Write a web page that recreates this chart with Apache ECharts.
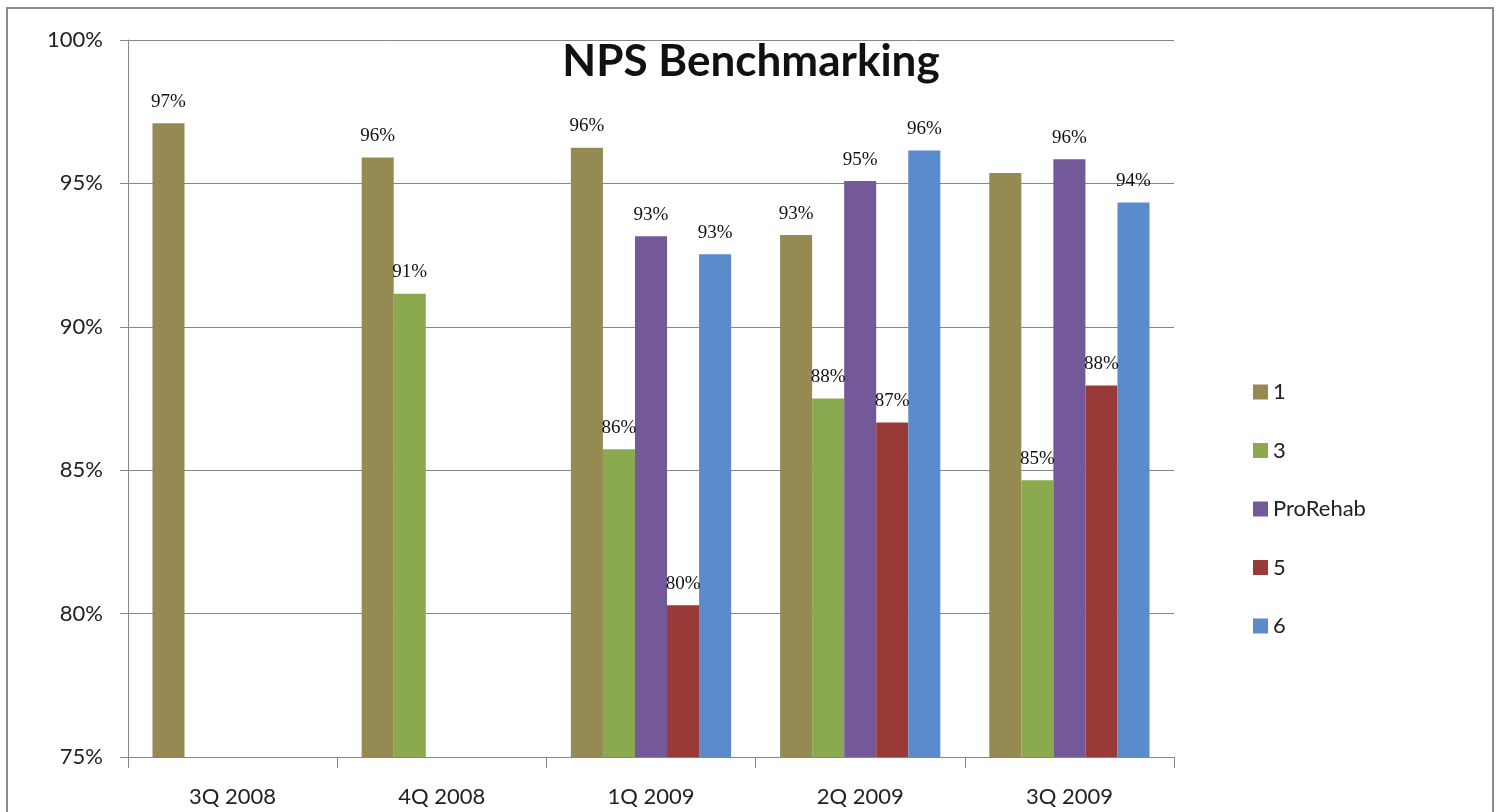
<!DOCTYPE html>
<html>
<head>
<meta charset="utf-8">
<script src="https://cdn.jsdelivr.net/npm/echarts@6/dist/echarts.min.js"></script>
<style>
html,body{margin:0;padding:0;background:#fff;}
#c{width:1502px;height:812px;}
</style>
</head>
<body>
<div id="c"></div>
<script>
const categories = ['3Q 2008', '4Q 2008', '1Q 2009', '2Q 2009', '3Q 2009'];
const seriesNames = ['1', '3', 'ProRehab', '5', '6'];
const s1 = [97.1, 95.9, 96.24, 93.2, 95.36];
const s3 = [null, 91.15, 85.73, 87.5, 84.65];
const sProRehab = [null, null, 93.16, 95.08, 95.84];
const s5 = [null, null, 80.29, 86.66, 87.95];
const s6 = [null, null, 92.53, 96.15, 94.33];
const yTicks = [75, 80, 85, 90, 95, 100];
// [seriesIndex, categoryIndex] of bars that show no data label
const unlabeled = [[0, 4]];
const colors = ['#958A52', '#8BA94F', '#74599A', '#9A3A38', '#5A8BCB'];

const allValues = [s1, s3, sProRehab, s5, s6];

const chart = echarts.init(document.getElementById('c'));
const series = allValues.map((vals, si) => ({
  name: seriesNames[si],
  type: 'bar',
  barGap: '0%',
  barCategoryGap: '23.4%',
  itemStyle: { color: colors[si] },
  label: {
    show: true,
    position: 'top',
    distance: 12,
    fontFamily: '"Liberation Serif", serif',
    fontSize: 19,
    color: '#111',
    formatter: p => Math.round(p.value) + '%'
  },
  data: vals.map((v, ci) => {
    const hide = unlabeled.some(u => u[0] === si && u[1] === ci);
    return hide ? { value: v, label: { show: false } } : v;
  })
}));

chart.setOption({
  animation: false,
  backgroundColor: '#fff',
  textStyle: { fontFamily: 'Lato, sans-serif' },
  title: {
    text: 'NPS Benchmarking',
    left: 'center',
    top: 40,
    padding: 0,
    textStyle: { fontFamily: 'Lato, sans-serif', fontWeight: 'bold', fontSize: 44, color: '#111' }
  },
  legend: {
    orient: 'vertical',
    left: 1248,
    top: 376,
    itemWidth: 15,
    itemHeight: 15,
    itemGap: 36.5,
    icon: 'rect',
    data: seriesNames,
    textStyle: { fontFamily: 'Lato, sans-serif', fontSize: 22, color: '#222', lineHeight: 22 }
  },
  grid: { left: 128, right: 328, top: 40, bottom: 55, containLabel: false },
  xAxis: {
    type: 'category',
    data: categories,
    axisLine: { lineStyle: { color: '#868686', width: 1 } },
    axisTick: { show: true, length: 11, lineStyle: { color: '#868686' } },
    axisLabel: { margin: 29, fontFamily: 'Lato, sans-serif', fontSize: 22, color: '#222' }
  },
  yAxis: {
    type: 'value',
    min: yTicks[0],
    max: yTicks[yTicks.length - 1],
    interval: 5,
    axisLine: { show: true, lineStyle: { color: '#868686', width: 1 } },
    axisTick: { show: true, length: 8, lineStyle: { color: '#868686' } },
    splitLine: { lineStyle: { color: '#868686', width: 1 } },
    axisLabel: { margin: 25, fontFamily: 'Lato, sans-serif', fontSize: 22, color: '#222', formatter: '{value}%' }
  },
  graphic: [{
    type: 'rect',
    shape: { x: 7, y: 8, width: 1486, height: 900 },
    style: { fill: 'none', stroke: '#8a8a8a', lineWidth: 2 },
    silent: true
  }],
  series: series
});
</script>
</body>
</html>
